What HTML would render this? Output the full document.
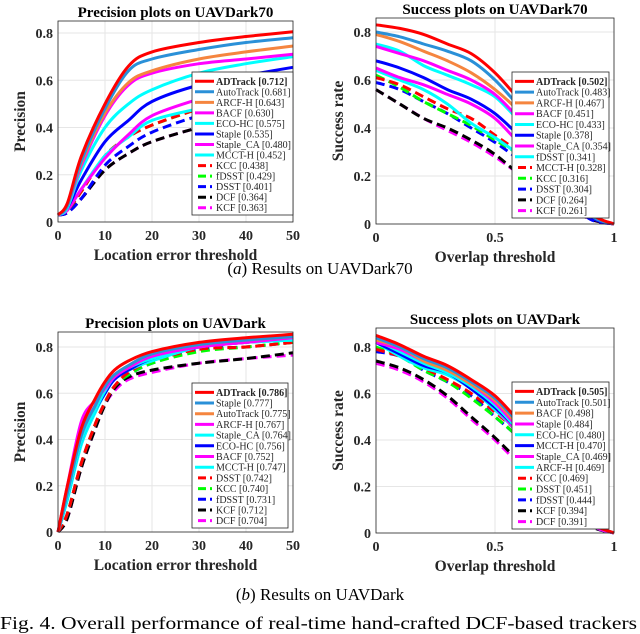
<!DOCTYPE html>
<html><head><meta charset="utf-8"><style>
body{margin:0;background:#fff;width:640px;height:634px;overflow:hidden}
svg{display:block;font-family:"Liberation Serif","Times New Roman",serif}
svg text{font-family:"Liberation Serif","Times New Roman",serif}
</style></head><body>
<svg id="fig" width="640" height="634" viewBox="0 0 640 634" xmlns="http://www.w3.org/2000/svg" font-family="Liberation Serif, serif">
<text x="320" y="274" font-size="17" text-anchor="middle">(<tspan font-style="italic">a</tspan>) Results on UAVDark70</text>
<text x="320" y="600" font-size="17" text-anchor="middle">(<tspan font-style="italic">b</tspan>) Results on UAVDark</text>
<text x="0" y="629" font-size="17.5" textLength="637" lengthAdjust="spacingAndGlyphs">Fig. 4.   Overall performance of real-time hand-crafted DCF-based trackers</text>
</svg>
<script>
const precX = [0,2,5,10,15,20,30,40,50];
const succX = [0,0.1,0.2,0.3,0.4,0.5,0.6,0.7,0.8,0.9,1];
const precX2 = [0,2,5,8,10,12,15,20,30,40,50];
const yTicks = [0,0.2,0.4,0.6,0.8];
const precTicks = [0,10,20,30,40,50];
const succTicks = [0,0.5,1];
const succTickLabels = ['0','0.5','1'];

// Plot A: precision UAVDark70
const namesA = ['ADTrack','AutoTrack','ARCF-H','BACF','ECO-HC','Staple','Staple_CA','MCCT-H','KCC','fDSST','DSST','DCF','KCF'];
const scoresA = ['0.712','0.681','0.643','0.630','0.575','0.535','0.480','0.452','0.438','0.429','0.401','0.364','0.363'];
const valuesA = [
[.03,.08,.28,.50,.66,.72,.76,.785,.805],
[.03,.07,.26,.48,.64,.69,.73,.76,.78],
[.03,.07,.25,.46,.59,.64,.69,.72,.745],
[.03,.07,.24,.45,.58,.63,.67,.69,.71],
[.03,.06,.22,.40,.50,.56,.63,.67,.70],
[.03,.06,.18,.34,.43,.51,.58,.62,.655],
[.03,.05,.14,.27,.37,.45,.52,.57,.60],
[.03,.05,.14,.28,.36,.43,.48,.52,.55],
[.03,.05,.13,.28,.36,.41,.48,.54,.57],
[.03,.05,.13,.28,.36,.41,.48,.55,.59],
[.03,.04,.10,.24,.32,.38,.45,.50,.53],
[.03,.04,.10,.22,.29,.34,.40,.45,.49],
[.03,.04,.10,.22,.29,.34,.40,.45,.48]];
// Plot B: success UAVDark70
const namesB = ['ADTrack','AutoTrack','ARCF-H','BACF','ECO-HC','Staple','Staple_CA','fDSST','MCCT-H','KCC','DSST','DCF','KCF'];
const scoresB = ['0.502','0.483','0.467','0.451','0.433','0.378','0.354','0.341','0.328','0.316','0.304','0.264','0.261'];
const valuesB = [
[.83,.815,.79,.75,.71,.63,.52,.40,.22,.05,0],
[.80,.78,.75,.72,.68,.60,.49,.37,.20,.04,0],
[.79,.76,.72,.68,.63,.56,.47,.35,.19,.04,0],
[.74,.71,.68,.64,.60,.54,.44,.33,.18,.04,0],
[.75,.72,.66,.62,.58,.53,.43,.32,.17,.04,0],
[.68,.65,.61,.56,.52,.46,.37,.28,.15,.03,0],
[.65,.61,.58,.54,.50,.44,.34,.26,.14,.03,0],
[.64,.60,.56,.50,.42,.36,.29,.22,.12,.03,0],
[.61,.58,.53,.48,.44,.37,.30,.22,.12,.03,0],
[.62,.57,.51,.46,.41,.35,.29,.21,.11,.03,0],
[.59,.56,.51,.46,.40,.34,.27,.20,.11,.02,0],
[.56,.50,.44,.40,.35,.29,.21,.15,.08,.02,0],
[.56,.50,.44,.39,.34,.28,.21,.15,.08,.02,0]];
// Plot C: precision UAVDark
const namesC = ['ADTrack','Staple','AutoTrack','ARCF-H','Staple_CA','ECO-HC','BACF','MCCT-H','DSST','KCC','fDSST','KCF','DCF'];
const scoresC = ['0.786','0.777','0.775','0.767','0.764','0.756','0.752','0.747','0.742','0.740','0.731','0.712','0.704'];
const valuesC = [
[0,.2,.45,.58,.65,.70,.74,.78,.82,.84,.855],
[0,.17,.42,.55,.63,.68,.72,.77,.81,.83,.845],
[0,.17,.42,.55,.63,.68,.72,.77,.81,.83,.845],
[0,.2,.48,.57,.62,.67,.71,.76,.80,.82,.84],
[0,.15,.40,.53,.61,.67,.71,.75,.80,.82,.83],
[0,.15,.40,.53,.60,.66,.70,.75,.80,.82,.835],
[0,.17,.43,.55,.61,.66,.71,.76,.80,.82,.84],
[0,.14,.38,.52,.60,.66,.70,.74,.80,.82,.83],
[0,.08,.30,.47,.56,.63,.69,.74,.79,.80,.82],
[0,.08,.30,.47,.56,.63,.68,.73,.78,.80,.82],
[0,.08,.30,.47,.56,.63,.68,.73,.79,.80,.82],
[0,.06,.28,.45,.55,.62,.67,.70,.73,.75,.775],
[0,.06,.28,.45,.55,.61,.66,.69,.73,.75,.765]];
// Plot D: success UAVDark
const namesD = ['ADTrack','AutoTrack','BACF','Staple','ECO-HC','MCCT-H','Staple_CA','ARCF-H','KCC','DSST','fDSST','KCF','DCF'];
const scoresD = ['0.505','0.501','0.498','0.484','0.480','0.470','0.469','0.469','0.469','0.451','0.444','0.394','0.391'];
const valuesD = [
[.85,.81,.76,.72,.66,.59,.48,.35,.20,.05,0],
[.84,.80,.75,.71,.65,.58,.47,.34,.19,.05,0],
[.83,.80,.74,.70,.64,.57,.46,.34,.19,.05,0],
[.82,.79,.74,.70,.64,.56,.45,.33,.18,.04,0],
[.83,.78,.73,.69,.63,.55,.44,.32,.18,.04,0],
[.82,.77,.72,.69,.62,.54,.44,.32,.18,.04,0],
[.82,.78,.73,.69,.63,.54,.43,.32,.18,.04,0],
[.82,.76,.71,.68,.62,.53,.43,.32,.18,.04,0],
[.79,.76,.71,.66,.60,.52,.43,.31,.17,.04,0],
[.80,.76,.70,.65,.58,.50,.41,.30,.16,.04,0],
[.78,.76,.70,.65,.59,.50,.41,.30,.16,.04,0],
[.74,.71,.66,.59,.50,.41,.31,.22,.12,.03,0],
[.73,.70,.65,.58,.49,.40,.30,.22,.12,.03,0]];

const colors = ['#ff0000','#2a90d8','#f5853f','#ff00ff','#00ffff','#0000ff','#ff00ff','#00ffff','#ff0000','#00ff00','#0000ff','#000000','#ff00ff'];
const dashed = [false,false,false,false,false,false,false,false,true,true,true,true,true];

const NS='http://www.w3.org/2000/svg';
const svg=document.getElementById('fig');
function mk(tag,attrs,parent){const e=document.createElementNS(NS,tag);for(const k in attrs)e.setAttribute(k,attrs[k]);(parent||svg).appendChild(e);return e;}
function smoothPath(p){
  let d='M'+p[0][0].toFixed(1)+','+p[0][1].toFixed(1);
  for(let i=0;i<p.length-1;i++){
    const p0=p[i-1]||p[i],p1=p[i],p2=p[i+1],p3=p[i+2]||p2;
    const c1x=p1[0]+(p2[0]-p0[0])/6,c1y=p1[1]+(p2[1]-p0[1])/6;
    const c2x=p2[0]-(p3[0]-p1[0])/6,c2y=p2[1]-(p3[1]-p1[1])/6;
    d+=` C${c1x.toFixed(1)},${c1y.toFixed(1)} ${c2x.toFixed(1)},${c2y.toFixed(1)} ${p2[0].toFixed(1)},${p2[1].toFixed(1)}`;
  }
  return d;
}

function drawPlot(cfg){
  const g=mk('g',{});
  
  
  const {x0,x1,y0,yTop,xMax,yPix08}=cfg;
  const sx=v=>x0+(v/xMax)*(x1-x0);
  const sy=v=>y0-(v/0.8)*(y0-yPix08);
  cfg.xt.forEach(t=>{const gl=mk('line',{x1:sx(t),x2:sx(t),y1:yTop,y2:y0,stroke:'#e6e6e6','stroke-width':1},g);
    });
  yTicks.forEach(t=>{const gl=mk('line',{x1:x0,x2:x1,y1:sy(t),y2:sy(t),stroke:'#e6e6e6','stroke-width':1},g);
    });
  for(let i=cfg.vals.length-1;i>=0;i--){
    const pts=cfg.vals[i].map((v,j)=>[sx(cfg.xs[j]),sy(v)]);
    const p=mk('path',{d:smoothPath(pts),fill:'none',stroke:colors[i],'stroke-width':3,'stroke-linejoin':'round','stroke-dasharray':dashed[i]?'9,5':'none'},g);
    
    
  }
  const fr=mk('rect',{x:x0,y:yTop,width:x1-x0,height:y0-yTop,fill:'none',stroke:'#262626','stroke-width':0.8},g);
  
  cfg.xt.forEach((t,k)=>{const tl=mk('text',{x:sx(t),y:y0+18,'font-size':14,'font-weight':'bold','text-anchor':'middle',fill:'#262626'},g);
    tl.textContent=cfg.xtl[k];});
  yTicks.forEach(t=>{const tl=mk('text',{x:x0-5,y:sy(t)+5,'font-size':14,'font-weight':'bold','text-anchor':'end',fill:'#262626'},g);
    tl.textContent=t===0?'0':t.toFixed(1);});
  const ti=mk('text',{x:(x0+x1)/2,y:yTop-4,'font-size':15,'font-weight':'bold','text-anchor':'middle'},g);
  ti.textContent=cfg.title;
  const xl=mk('text',{x:(x0+x1)/2,y:y0+38,'font-size':15.5,'font-weight':'bold','text-anchor':'middle',fill:'#262626'},g);
  xl.textContent=cfg.xlabel;
  const yl=mk('text',{x:0,y:0,'font-size':15.5,'font-weight':'bold','text-anchor':'middle',fill:'#262626',transform:`translate(${x0-33},${(y0+yTop)/2}) rotate(-90)`},g);
  yl.textContent=cfg.ylabel;
  const lg=mk('g',{},g);
  
  const L=cfg.leg;
  mk('rect',{x:L.x,y:L.y,width:L.w,height:L.h,fill:'#fff',stroke:'#262626','stroke-width':0.8},lg);
  const rh=(L.h-6)/13;
  cfg.names.forEach((n,i)=>{
    const yy=L.y+4+rh*(i+0.5);
    const e=mk('g',{},lg);
    
    if(dashed[i]) mk('line',{x1:L.x+6,x2:L.x+20,y1:yy,y2:yy,stroke:colors[i],'stroke-width':3,'stroke-dasharray':'8,4'},e);
    else mk('line',{x1:L.x+3,x2:L.x+22,y1:yy,y2:yy,stroke:colors[i],'stroke-width':3},e);
    const t=mk('text',{x:L.x+24,y:yy+3.5,'font-size':10,fill:'#262626','font-weight':i===0?'bold':'normal'},e);
    t.textContent=n+' ['+cfg.scores[i]+']';
  });
}

drawPlot({id:'precision-plot-uavdark70',title:'Precision plots on UAVDark70',xlabel:'Location error threshold',ylabel:'Precision',
  x0:58,x1:293,y0:222,yTop:21,yPix08:33,xMax:50,xs:precX,xt:precTicks,xtl:precTicks.map(String),
  names:namesA,scores:scoresA,vals:valuesA,leg:{x:192,y:72,w:101,h:143}});
drawPlot({id:'success-plot-uavdark70',title:'Success plots on UAVDark70',xlabel:'Overlap threshold',ylabel:'Success rate',
  x0:376,x1:614,y0:224,yTop:18,yPix08:32,xMax:1,xs:succX,xt:succTicks,xtl:succTickLabels,
  names:namesB,scores:scoresB,vals:valuesB,leg:{x:512,y:72,w:97,h:146}});
drawPlot({id:'precision-plot-uavdark',title:'Precision plots on UAVDark',xlabel:'Location error threshold',ylabel:'Precision',
  x0:58,x1:293,y0:532,yTop:332,yPix08:347,xMax:50,xs:precX2,xt:precTicks,xtl:precTicks.map(String),
  names:namesC,scores:scoresC,vals:valuesC,leg:{x:192,y:383,w:96,h:145}});
drawPlot({id:'success-plot-uavdark',title:'Success plots on UAVDark',xlabel:'Overlap threshold',ylabel:'Success rate',
  x0:376,x1:614,y0:533,yTop:328,yPix08:347,xMax:1,xs:succX,xt:succTicks,xtl:succTickLabels,
  names:namesD,scores:scoresD,vals:valuesD,leg:{x:512,y:382,w:97,h:147}});
</script>
</body></html>
